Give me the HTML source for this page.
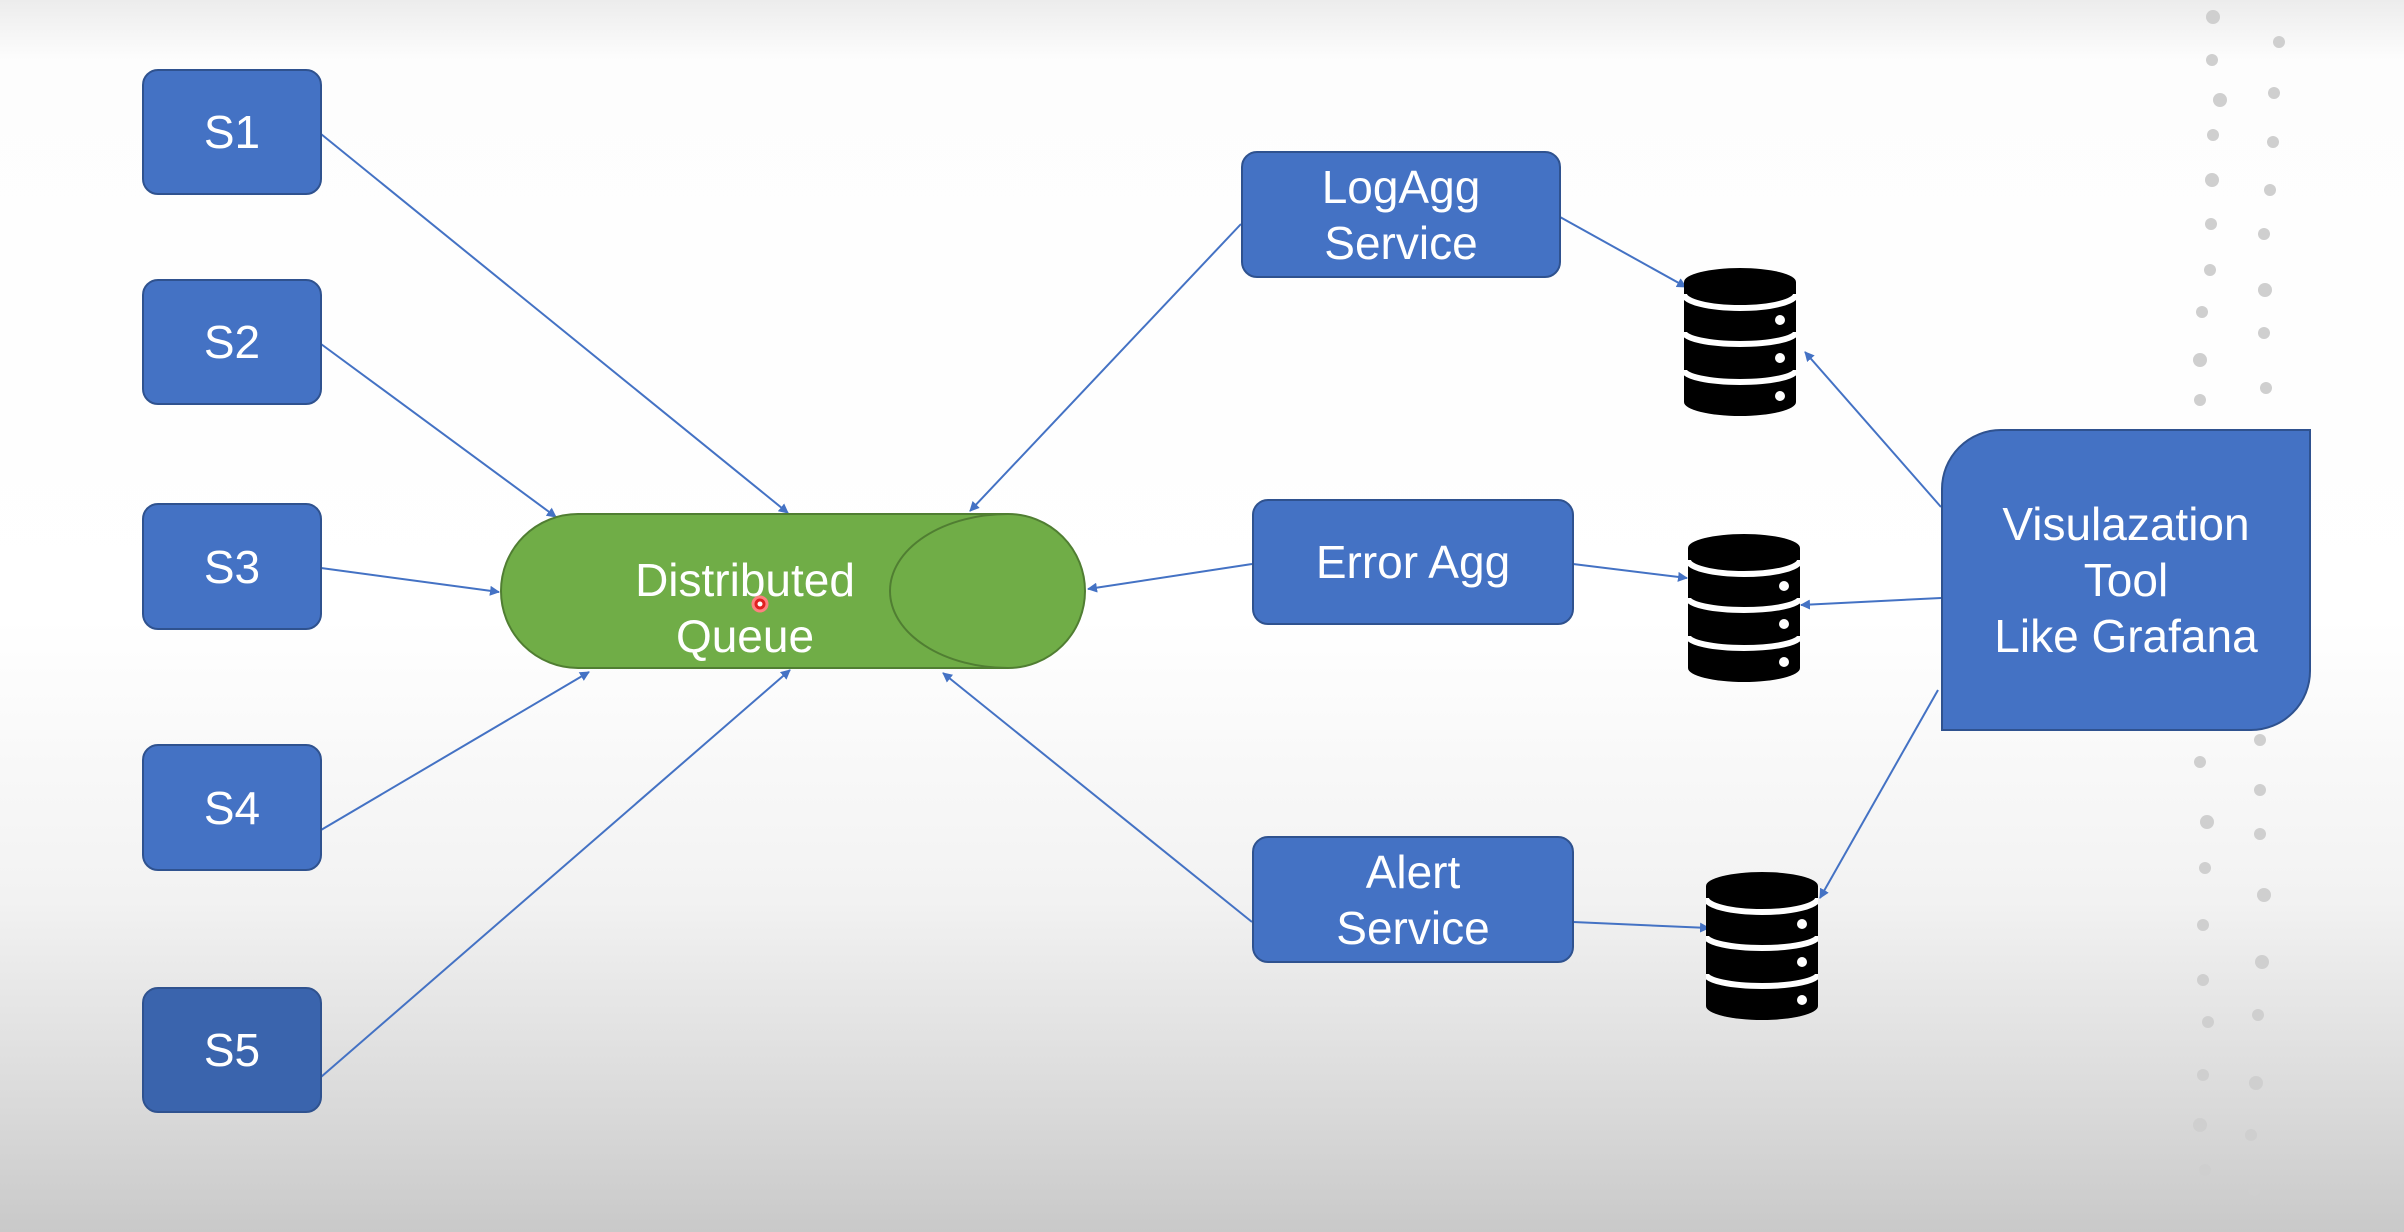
<!DOCTYPE html>
<html><head><meta charset="utf-8"><style>
html,body{margin:0;padding:0;}
body{width:2404px;height:1232px;overflow:hidden;position:relative;font-family:"Liberation Sans",sans-serif;
background:linear-gradient(to bottom,#ececec 0px,#fdfdfd 60px,#ffffff 620px,#f2f2f2 900px,#d8d8d8 1120px,#c9c9c9 1232px);}
.b{position:absolute;background:#4472c4;border:2px solid #2f528f;border-radius:16px;color:#fff;display:flex;align-items:center;justify-content:center;text-align:center;font-size:46px;line-height:56px;box-sizing:border-box;}
svg{position:absolute;left:0;top:0;}
</style></head><body>
<svg width="2404" height="1232" viewBox="0 0 2404 1232">
<defs>
<marker id="a" markerWidth="10" markerHeight="10" refX="9" refY="5" orient="auto" markerUnits="userSpaceOnUse" viewBox="0 0 10 10"><path d="M0,0 L10,5 L0,10 z" fill="#4472c4"/></marker>
<symbol id="db" viewBox="0 0 112 148">
<path d="M0,14 A56,14 0 0 1 112,14 L112,134 A56,14 0 0 1 0,134 Z" fill="#000"/>
<path d="M0,26 A56,14 0 0 0 112,26" fill="none" stroke="#fff" stroke-width="6"/>
<path d="M0,64 A56,12 0 0 0 112,64" fill="none" stroke="#fff" stroke-width="6"/>
<path d="M0,102 A56,12 0 0 0 112,102" fill="none" stroke="#fff" stroke-width="6"/>
<circle cx="96" cy="52" r="5" fill="#fff"/><circle cx="96" cy="90" r="5" fill="#fff"/><circle cx="96" cy="128" r="5" fill="#fff"/>
</symbol>
</defs>
<g fill="#cfcfcf">
<circle cx="2213" cy="17" r="7"/><circle cx="2279" cy="42" r="6"/><circle cx="2212" cy="60" r="6"/><circle cx="2274" cy="93" r="6"/><circle cx="2220" cy="100" r="7"/><circle cx="2213" cy="135" r="6"/><circle cx="2273" cy="142" r="6"/><circle cx="2212" cy="180" r="7"/><circle cx="2270" cy="190" r="6"/><circle cx="2211" cy="224" r="6"/><circle cx="2264" cy="234" r="6"/><circle cx="2210" cy="270" r="6"/><circle cx="2265" cy="290" r="7"/><circle cx="2202" cy="312" r="6"/><circle cx="2264" cy="333" r="6"/><circle cx="2200" cy="360" r="7"/><circle cx="2266" cy="388" r="6"/><circle cx="2200" cy="400" r="6"/>
<circle cx="2260" cy="740" r="6"/><circle cx="2200" cy="762" r="6"/><circle cx="2260" cy="790" r="6"/><circle cx="2207" cy="822" r="7"/><circle cx="2260" cy="834" r="6"/><circle cx="2205" cy="868" r="6"/><circle cx="2264" cy="895" r="7"/><circle cx="2203" cy="925" r="6"/><circle cx="2262" cy="962" r="7"/><circle cx="2203" cy="980" r="6"/><circle cx="2258" cy="1015" r="6"/><circle cx="2208" cy="1022" r="6"/><circle cx="2203" cy="1075" r="6"/><circle cx="2256" cy="1083" r="7"/><circle cx="2200" cy="1125" r="7"/><circle cx="2251" cy="1135" r="6"/><circle cx="2205" cy="1170" r="6"/><circle cx="2254" cy="1190" r="6"/>
</g>
<g stroke="#4472c4" stroke-width="2" fill="none" marker-end="url(#a)">
<line x1="321" y1="134" x2="788" y2="513"/>
<line x1="321" y1="344" x2="556" y2="517"/>
<line x1="321" y1="568" x2="499" y2="592"/>
<line x1="321" y1="830" x2="589" y2="672"/>
<line x1="321" y1="1077" x2="790" y2="670"/>
<line x1="1241" y1="224" x2="970" y2="511"/>
<line x1="1252" y1="564" x2="1088" y2="589"/>
<line x1="1252" y1="922" x2="943" y2="673"/>
<line x1="1560" y1="217" x2="1686" y2="287"/>
<line x1="1573" y1="564" x2="1687" y2="578"/>
<line x1="1573" y1="922" x2="1709" y2="928"/>
<line x1="1941" y1="507" x2="1805" y2="352"/>
<line x1="1941" y1="598" x2="1801" y2="605"/>
<line x1="1938" y1="690" x2="1820" y2="898"/>
</g>
<path d="M578,514 L1008,514 A77,77 0 0 1 1008,668 L578,668 A77,77 0 0 1 578,514 Z" fill="#70ad47" stroke="#507e32" stroke-width="2"/>
<path d="M1008,514 A118,77 0 0 0 1008,668" fill="none" stroke="#507e32" stroke-width="2"/>
<text x="745" y="596" fill="#fff" font-family="Liberation Sans,sans-serif" font-size="46" text-anchor="middle">Distributed</text>
<text x="745" y="652" fill="#fff" font-family="Liberation Sans,sans-serif" font-size="46" text-anchor="middle">Queue</text>
<circle cx="760" cy="604" r="7" fill="#e02020" stroke="#ff8080" stroke-width="3"/><circle cx="760" cy="604" r="2.5" fill="#fff"/>
<use href="#db" x="1684" y="268" width="112" height="148"/>
<use href="#db" x="1688" y="534" width="112" height="148"/>
<use href="#db" x="1706" y="872" width="112" height="148"/>
</svg>
<div class="b" style="left:142px;top:69px;width:180px;height:126px">S1</div>
<div class="b" style="left:142px;top:279px;width:180px;height:126px">S2</div>
<div class="b" style="left:142px;top:503px;width:180px;height:127px">S3</div>
<div class="b" style="left:142px;top:744px;width:180px;height:127px">S4</div>
<div class="b" style="left:142px;top:987px;width:180px;height:126px;background:#3a64ad">S5</div>
<div class="b" style="left:1241px;top:151px;width:320px;height:127px">LogAgg<br>Service</div>
<div class="b" style="left:1252px;top:499px;width:322px;height:126px">Error Agg</div>
<div class="b" style="left:1252px;top:836px;width:322px;height:127px">Alert<br>Service</div>
<div class="b" style="left:1941px;top:429px;width:370px;height:302px;border-radius:60px 0 60px 0">Visulazation<br>Tool<br>Like Grafana</div>
</body></html>
